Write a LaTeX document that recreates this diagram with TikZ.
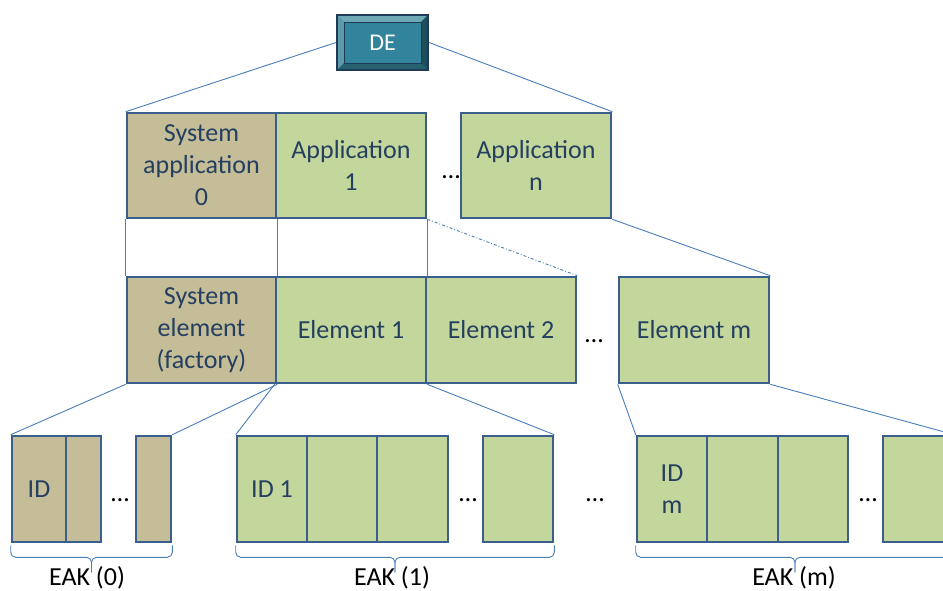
\documentclass[tikz,border=0pt]{standalone}
\usepackage{fontspec}
\setmainfont{Carlito}
\usetikzlibrary{calc}
\definecolor{boxline}{HTML}{3A5F8D}
\definecolor{tanfill}{HTML}{C4BD97}
\definecolor{greenfill}{HTML}{C3D69B}
\definecolor{txt}{HTML}{243F60}
\definecolor{link}{HTML}{4A7EBB}
\definecolor{debord}{HTML}{1F3A57}
\definecolor{deface}{HTML}{31849B}
\definecolor{bevtop}{HTML}{6DA9B7}
\definecolor{bevleft}{HTML}{5B9BAB}
\definecolor{bevright}{HTML}{1F4E5B}
\definecolor{bevbottom}{HTML}{27606E}
\begin{document}
\begin{tikzpicture}[x=1pt,y=-1pt,
  cell/.style={draw=boxline, line width=2.6pt, inner sep=0pt, text=txt,
    align=center, font=\fontsize{26}{32}\selectfont},
  tanbox/.style={cell, fill=tanfill},
  grnbox/.style={cell, fill=greenfill},
  sz/.style 2 args={minimum width=#1pt, minimum height=#2pt},
  dots/.style={inner sep=0pt, font=\fontsize{26}{32}\selectfont},
  lbl/.style={anchor=base, font=\fontsize{26}{32}\selectfont},
  conn/.style={draw=link, line width=0.9pt},
  brc/.style={draw=link, line width=0.9pt, rounded corners=5pt},
  debox/.style={minimum width=91pt, minimum height=55pt, inner sep=0pt,
    draw=debord, line width=2pt, fill=deface, text=white,
    font=\fontsize{24}{28}\selectfont,
    path picture={
      \fill[bevtop] (path picture bounding box.north west) -- (path picture bounding box.north east)
        -- ++(-7pt,-7pt) -- ($(path picture bounding box.north west)+(7pt,-7pt)$) -- cycle;
      \fill[bevleft] (path picture bounding box.north west) -- (path picture bounding box.south west)
        -- ++(7pt,7pt) -- ($(path picture bounding box.north west)+(7pt,-7pt)$) -- cycle;
      \fill[bevright] (path picture bounding box.north east) -- (path picture bounding box.south east)
        -- ++(-7pt,7pt) -- ($(path picture bounding box.north east)+(-7pt,-7pt)$) -- cycle;
      \fill[bevbottom] (path picture bounding box.south west) -- (path picture bounding box.south east)
        -- ++(-7pt,7pt) -- ($(path picture bounding box.south west)+(7pt,7pt)$) -- cycle;
      \draw[debord, line width=1pt] ($(path picture bounding box.north west)+(7pt,-7pt)$)
        rectangle ($(path picture bounding box.south east)+(-7pt,7pt)$);
    }}]
\useasboundingbox (0,0) rectangle (943,590);

% root
\node[debox] (de) at (382.5,42.5) {DE};

% applications
\node[tanbox, sz={149}{105}] (sa0) at (201.5,165.5) {System\\application\\0};
\node[grnbox, sz={150}{105}] (app1) at (351,165.5) {Application\\1};
\node[grnbox, sz={150}{105}] (appn) at (536,165.5) {Application\\n};

% elements
\node[tanbox, sz={149}{106}] (se0) at (201.5,330) {System\\element\\(factory)};
\node[grnbox, sz={150}{106}] (el1) at (351,330) {Element 1};
\node[grnbox, sz={150}{106}] (el2) at (501,330) {Element 2};
\node[grnbox, sz={150}{106}] (elm) at (694,330) {Element m};

% EAK (0)
\node[tanbox, sz={54}{106}] (c01) at (39,489) {ID};
\node[tanbox, sz={35}{106}] (c02) at (83.5,489) {};
\node[tanbox, sz={35}{106}] (c0n) at (153.5,489) {};
% EAK (1)
\node[grnbox, sz={70}{106}] (c11) at (272,489) {ID 1};
\node[grnbox, sz={70}{106}] (c12) at (342,489) {};
\node[grnbox, sz={71}{106}] (c13) at (412.5,489) {};
\node[grnbox, sz={70}{106}] (c1n) at (518,489) {};
% EAK (m)
\node[grnbox, sz={70}{106}] (cm1) at (672,489) {ID\\m};
\node[grnbox, sz={71}{106}] (cm2) at (742.5,489) {};
\node[grnbox, sz={70}{106}] (cm3) at (813,489) {};
\node[grnbox, sz={70}{106}] (cmn) at (918,489) {};

% ellipses
\node[dots] (d1) at (451,177) {…};
\node[dots] (d2) at (594,341) {…};
\node[dots] (d3) at (120,500) {…};
\node[dots] (d4) at (468,500) {…};
\node[dots] (d5) at (595,500) {…};
\node[dots] (d6) at (868,500) {…};

% links from the root
\draw[conn] (de.west) -- (sa0.north west);
\draw[conn] (de.east) -- (appn.north east);

% links from applications to elements
\draw[conn] (sa0.south west) -- (se0.north west);
\draw[conn] (sa0.south east) -- (se0.north east);
\draw[conn] (app1.south east) -- (el1.north east);
\draw[conn, dash dot] (app1.south east) -- (el2.north east);
\draw[conn] (appn.south east) -- (elm.north east);

% links from elements to EAKs
\draw[conn] (se0.south west) -- (c01.north west);
\draw[conn] (se0.south east) -- (c0n.north east);
\draw[conn] (el1.south west) -- (c11.north west);
\draw[conn] (el1.south east) -- (c1n.north east);
\draw[conn] (elm.south west) -- (cm1.north west);
\draw[conn] (elm.south east) -- (cmn.north east);

% braces under each EAK
\path (c01.south west) ++(0,2) coordinate (b0a);
\path (c0n.south east) ++(0,2) coordinate (b0b);
\coordinate (b0m) at ($(b0a)!0.5!(b0b)+(0,27)$);
\draw[brc] (b0a) -- ++(0,12) -| (b0m);
\draw[brc] (b0b) -- ++(0,12) -| (b0m);

\path (c11.south west) ++(0,2) coordinate (b1a);
\path (c1n.south east) ++(0,2) coordinate (b1b);
\coordinate (b1m) at ($(b1a)!0.5!(b1b)+(0,27)$);
\draw[brc] (b1a) -- ++(0,12) -| (b1m);
\draw[brc] (b1b) -- ++(0,12) -| (b1m);

\path (cm1.south west) ++(0,2) coordinate (bma);
\path (cmn.south east) ++(0,2) coordinate (bmb);
\coordinate (bmm) at ($(bma)!0.5!(bmb)+(0,27)$);
\draw[brc] (bma) -- ++(0,12) -| (bmm);
\draw[brc] (bmb) -- ++(0,12) -| (bmm);

% EAK labels
\node[lbl] (eak0) at (87,585) {EAK (0)};
\node[lbl] (eak1) at (392,585) {EAK (1)};
\node[lbl] (eakm) at (794,585) {EAK (m)};
\end{tikzpicture}
\end{document}
